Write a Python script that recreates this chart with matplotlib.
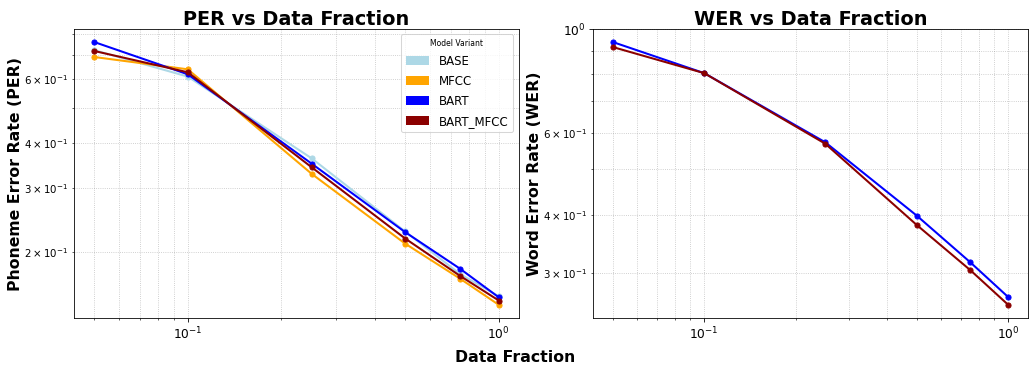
import numpy as np
import matplotlib
matplotlib.use("Agg")
import matplotlib.pyplot as plt
from matplotlib.patches import Patch

# data fractions used for training
fractions = [0.05, 0.1, 0.25, 0.5, 0.75, 1.0]

# phoneme error rate per model variant
per_base = [0.722, 0.610, 0.363, 0.228, 0.174, 0.151]
per_mfcc = [0.691, 0.639, 0.329, 0.211, 0.169, 0.143]
per_bart = [0.760, 0.619, 0.351, 0.227, 0.180, 0.150]
per_bart_mfcc = [0.718, 0.627, 0.343, 0.218, 0.172, 0.147]

# word error rate (only BART variants)
wer_bart = [0.939, 0.805, 0.572, 0.398, 0.316, 0.266]
wer_bart_mfcc = [0.916, 0.805, 0.568, 0.380, 0.304, 0.256]

variants = ["BASE", "MFCC", "BART", "BART_MFCC"]
colors = {"BASE": "lightblue", "MFCC": "orange", "BART": "blue", "BART_MFCC": "darkred"}

per_data = {"BASE": per_base, "MFCC": per_mfcc, "BART": per_bart, "BART_MFCC": per_bart_mfcc}
wer_data = {"BART": wer_bart, "BART_MFCC": wer_bart_mfcc}

fig, (ax1, ax2) = plt.subplots(1, 2, figsize=(14, 4.99), dpi=1030 / 14)

for name in variants:
    ax1.plot(fractions, per_data[name], marker="o", markersize=5, linewidth=2,
             color=colors[name], label=name)
for name in ["BART", "BART_MFCC"]:
    ax2.plot(fractions, wer_data[name], marker="o", markersize=5, linewidth=2,
             color=colors[name], label=name)

for ax, title, ylabel in [(ax1, "PER vs Data Fraction", "Phoneme Error Rate (PER)"),
                          (ax2, "WER vs Data Fraction", "Word Error Rate (WER)")]:
    ax.set_xscale("log")
    ax.set_yscale("log")
    ax.set_title(title, fontsize=18.8, fontweight="bold", pad=3)
    ax.set_ylabel(ylabel, fontsize=15.4, fontweight="bold", labelpad=1)
    ax.grid(True, which="both", linestyle=":", color="gray", alpha=0.5)
    ax.tick_params(axis="both", which="major", labelsize=12)

handles = [Patch(facecolor=colors[n], label=n) for n in variants]
ax1.legend(handles=handles, title="Model Variant", fontsize=11.5, title_fontsize=7.5,
           labelspacing=0.6, loc="upper right", bbox_to_anchor=(0.9865, 0.983),
           borderaxespad=0)

ax1.set_position([74 / 1030, 1 - 318 / 367, 445 / 1030, 289 / 367])
ax2.set_position([593 / 1030, 1 - 318 / 367, 435 / 1030, 289 / 367])

fig.text(0.5, 0.025, "Data Fraction", fontsize=15.4, fontweight="bold",
         ha="center", va="center")

fig.savefig("out.png")
